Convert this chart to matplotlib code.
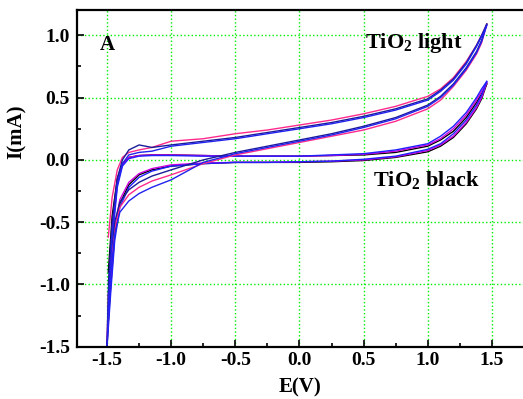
import matplotlib
matplotlib.use('Agg')
import matplotlib.pyplot as plt
from matplotlib.ticker import MultipleLocator

plt.rcParams['font.family'] = 'Liberation Serif'
plt.rcParams['font.weight'] = 'bold'
plt.rcParams['axes.unicode_minus'] = False
plt.rcParams['mathtext.fontset'] = 'custom'
plt.rcParams['mathtext.bf'] = 'Liberation Serif:bold'
plt.rcParams['mathtext.rm'] = 'Liberation Serif:bold'

# potentials (V) for the forward (anodic) and reverse sweeps
E_fwd = [-1.49, -1.46, -1.42, -1.38, -1.33, -1.25, -1.15, -1.0, -0.75, -0.5, -0.25,
         0.0, 0.25, 0.5, 0.75, 1.0, 1.1, 1.2, 1.3, 1.38, 1.42, 1.46]
E_rev = [1.46, 1.42, 1.38, 1.3, 1.2, 1.1, 1.0, 0.75, 0.5, 0.25, 0.0, -0.25, -0.5,
         -0.75, -1.0, -1.15, -1.25, -1.33, -1.4, -1.44, -1.47, -1.49, -1.5]

# TiO2 light, three cycles (mA)
light_fwd_1 = [-0.62, -0.30, -0.08, 0.02, 0.06, 0.08, 0.10, 0.15, 0.17, 0.21, 0.24,
               0.28, 0.32, 0.37, 0.43, 0.51, 0.57, 0.66, 0.79, 0.92, 1.00, 1.09]
light_rev_1 = [1.09, 0.94, 0.85, 0.72, 0.59, 0.48, 0.41, 0.31, 0.24, 0.19, 0.14, 0.09,
               0.04, -0.03, -0.12, -0.17, -0.22, -0.28, -0.38, -0.55, -0.80, -1.10, -1.45]
light_fwd_2 = [-1.00, -0.50, -0.15, 0.00, 0.08, 0.12, 0.10, 0.12, 0.15, 0.18, 0.22,
               0.26, 0.30, 0.35, 0.41, 0.49, 0.56, 0.65, 0.78, 0.92, 1.00, 1.09]
light_rev_2 = [1.09, 0.96, 0.87, 0.74, 0.61, 0.51, 0.44, 0.34, 0.27, 0.21, 0.16, 0.11,
               0.06, 0.00, -0.08, -0.13, -0.18, -0.24, -0.34, -0.50, -0.75, -1.05, -1.50]
light_fwd_3 = [-1.20, -0.60, -0.20, -0.03, 0.04, 0.06, 0.07, 0.11, 0.14, 0.17, 0.21,
               0.25, 0.29, 0.34, 0.40, 0.48, 0.55, 0.64, 0.77, 0.91, 0.99, 1.08]
light_rev_3 = [1.08, 0.95, 0.86, 0.73, 0.60, 0.50, 0.43, 0.33, 0.26, 0.20, 0.15, 0.10,
               0.05, -0.02, -0.16, -0.22, -0.27, -0.33, -0.42, -0.60, -0.90, -1.20, -1.50]

# TiO2 black, three cycles (mA)
black_fwd_1 = [-0.90, -0.45, -0.15, -0.03, 0.02, 0.035, 0.04, 0.04, 0.035, 0.03, 0.03,
               0.03, 0.035, 0.04, 0.06, 0.11, 0.16, 0.23, 0.34, 0.46, 0.53, 0.61]
black_rev_1 = [0.61, 0.49, 0.41, 0.29, 0.18, 0.11, 0.065, 0.02, -0.005, -0.015, -0.02, -0.02,
               -0.02, -0.03, -0.05, -0.08, -0.12, -0.20, -0.35, -0.60, -1.00, -1.30, -1.50]
black_fwd_2 = [-1.10, -0.55, -0.18, -0.04, 0.02, 0.035, 0.04, 0.04, 0.035, 0.03, 0.03,
               0.03, 0.035, 0.045, 0.07, 0.12, 0.17, 0.25, 0.36, 0.48, 0.55, 0.62]
black_rev_2 = [0.62, 0.50, 0.42, 0.30, 0.19, 0.12, 0.075, 0.025, 0.0, -0.01, -0.015, -0.02,
               -0.02, -0.025, -0.04, -0.07, -0.11, -0.18, -0.32, -0.55, -0.95, -1.25, -1.50]
black_fwd_3 = [-1.30, -0.65, -0.22, -0.05, 0.01, 0.03, 0.035, 0.035, 0.03, 0.03, 0.03,
               0.03, 0.04, 0.05, 0.08, 0.13, 0.19, 0.27, 0.38, 0.50, 0.57, 0.63]
black_rev_3 = [0.63, 0.52, 0.44, 0.32, 0.21, 0.13, 0.085, 0.03, 0.005, -0.01, -0.015, -0.02,
               -0.02, -0.03, -0.05, -0.09, -0.14, -0.22, -0.38, -0.65, -1.05, -1.35, -1.50]

light_cycles = [(light_fwd_1, light_rev_1, '#ff2a8c'),
                (light_fwd_2, light_rev_2, '#1c1c99'),
                (light_fwd_3, light_rev_3, '#2222ee')]
black_cycles = [(black_fwd_1, black_rev_1, '#000000'),
                (black_fwd_2, black_rev_2, '#cc00dd'),
                (black_fwd_3, black_rev_3, '#2020ff')]

fig = plt.figure(figsize=(5.23, 3.99), dpi=100)
ax = fig.add_axes([77 / 523, 52.3 / 399, 449 / 523, 337 / 399])

for fwd, rev, col in black_cycles + light_cycles:
    ax.plot(E_fwd, fwd, color=col, lw=1.0)
    ax.plot(E_rev, rev, color=col, lw=1.0)

ax.set_xlim(-1.734, 1.766)
ax.set_ylim(-1.5, 1.206)
ax.xaxis.set_major_locator(MultipleLocator(0.5))
ax.xaxis.set_minor_locator(MultipleLocator(0.25))
ax.yaxis.set_major_locator(MultipleLocator(0.5))
ax.yaxis.set_minor_locator(MultipleLocator(0.25))
ax.tick_params(which='both', direction='in', labelsize=14, width=1.2)
ax.tick_params(which='major', length=5)
ax.tick_params(axis='y', pad=5)
ax.tick_params(which='minor', length=3)
ax.grid(True, which='major', color='#00ee00', linestyle=':', linewidth=1.0)
for s in ax.spines.values():
    s.set_linewidth(1.6)

ax.set_xlabel('E(V)', fontsize=15, fontweight='bold')
ax.set_ylabel('I(mA)', fontsize=15, fontweight='bold')
ax.xaxis.set_label_coords(0.497, -0.122)
ax.xaxis.label.set_va('center')
ax.yaxis.set_label_coords(-0.134, 0.637)
ax.yaxis.label.set_va('center')

ax.text(-1.5, 0.92, 'A', fontsize=15, fontweight='bold', ha='center', va='center')
ax.text(0.89, 0.94, r'TiO$_\mathbf{2}$ light', fontsize=16, fontweight='bold', ha='center', va='center')
ax.text(0.99, -0.17, r'TiO$_\mathbf{2}$ black', fontsize=16, fontweight='bold', ha='center', va='center')

fig.savefig('out.png', dpi=100)
